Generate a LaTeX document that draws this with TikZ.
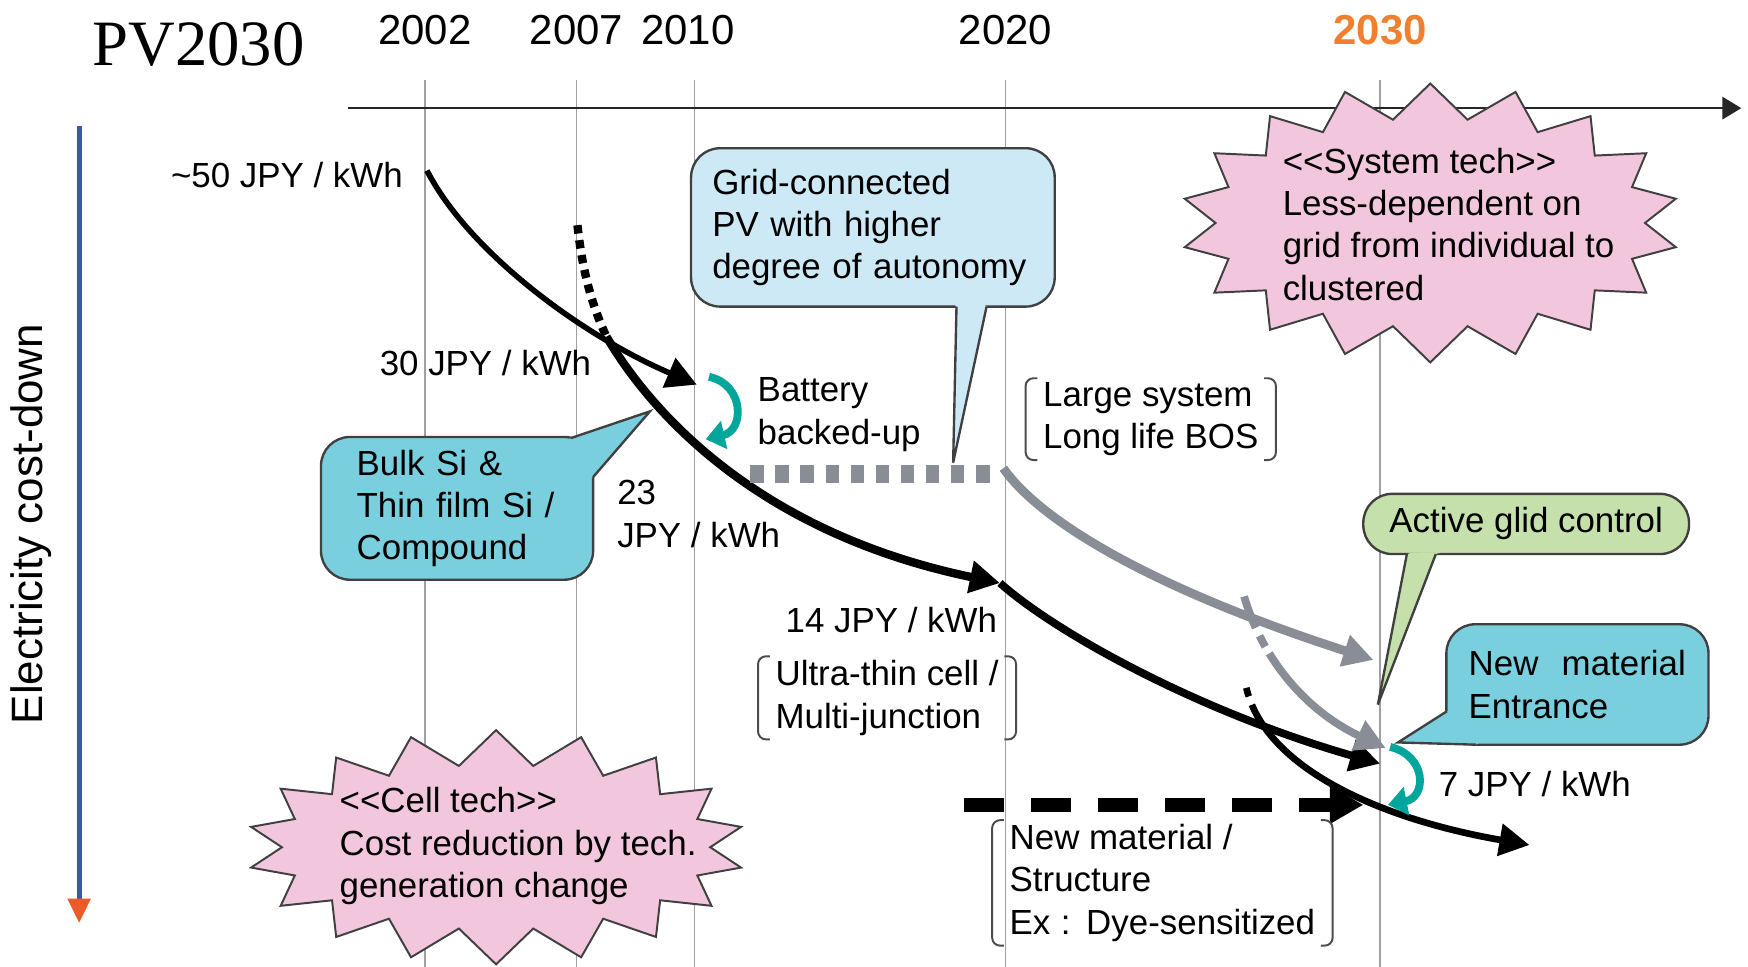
\documentclass[tikz,border=0pt]{standalone}
\usepackage{fontspec}
\setmainfont{Liberation Sans}
\newfontfamily\titlefont{Liberation Serif}
\usetikzlibrary{arrows.meta,shapes.symbols,calc}

\definecolor{gridgray}{RGB}{160,160,160}
\definecolor{curvegray}{RGB}{137,142,150}
\definecolor{cyclegreen}{RGB}{0,166,156}
\definecolor{axisblue}{RGB}{58,90,168}
\definecolor{axisred}{RGB}{236,90,40}
\definecolor{yearorange}{RGB}{240,128,48}
\definecolor{lightblue}{RGB}{205,233,245}
\definecolor{midblue}{RGB}{122,207,223}
\definecolor{palegreen}{RGB}{197,224,170}
\definecolor{burstpink}{RGB}{242,199,221}

\tikzset{
    yearlabel/.style={font=\fontsize{10.7}{12}\selectfont, inner sep=0pt},
    price/.style={font=\fontsize{8.9}{10.8}\selectfont, align=left, inner sep=0pt},
    gridline/.style={gridgray, line width=0.4pt},
    bubble/.style={draw=black!75, line width=0.6pt, rounded corners=0.26cm, inner sep=0pt,
        align=left, font=\fontsize{8.9}{10.8}\selectfont},
    burst/.style={shape=starburst, starburst points=18, random starburst=0,
        starburst point height=0.31cm, draw=black!75, line width=0.5pt, fill=burstpink, inner sep=0pt},
    bracketed/.style={font=\fontsize{8.9}{10.8}\selectfont, align=left, inner xsep=0.15cm, inner ysep=0.03cm},
    cost/.style={line width=0.05cm, -{Triangle[length=0.27cm,width=0.28cm]}},
    costgray/.style={cost, curvegray, line width=0.08cm},
    squaredots/.style={line width=0.075cm, dash pattern=on 0.075cm off 0.06cm},
    graysquares/.style={curvegray, line width=0.16cm, dash pattern=on 0.12cm off 0.105cm},
    blackdash/.style={line width=0.13cm, dash pattern=on 0.36cm off 0.24cm, -{Triangle[length=0.3cm,width=0.32cm]}},
    turnarrow/.style={cyclegreen, line width=0.07cm, -{Triangle[length=0.17cm,width=0.25cm]}},
}

\newcommand\bubbletail[5]{%
    \fill[#1] ($(#3)!1.5pt!(#2.center)$) -- (#3) -- (#4) -- (#5) -- ($(#5)!1.5pt!(#2.center)$) -- cycle;
    \draw[black!75, line width=0.6pt] (#3) -- (#4) -- (#5);}
\newcommand\brackets[1]{%
    \draw[black!70, line width=0.5pt, rounded corners=2pt] ([xshift=3pt]#1.north west) -- (#1.north west)
        -- (#1.south west) -- ([xshift=3pt]#1.south west);
    \draw[black!70, line width=0.5pt, rounded corners=2pt] ([xshift=-3pt]#1.north east) -- (#1.north east)
        -- (#1.south east) -- ([xshift=-3pt]#1.south east);}

\begin{document}
\begin{tikzpicture}[x=0.01cm,y=-0.01cm]
                \useasboundingbox (0,0) rectangle (1568,867);
                \foreach \g/\t/\yr in {381/381/2002, 517/517/2007, 623/617/2010, 902/902/2020} {
                    \draw[gridline] (\g,72) -- (\g,867);
                    \node[yearlabel] (y\yr) at (\t,27) {\yr};
                }
                \draw[gridline] (1238,72) -- (1238,867);
                \node[yearlabel, font=\fontsize{10.7}{12}\selectfont\bfseries, text=yearorange] (y2030) at (1238,27) {2030};
                \node[font=\titlefont\fontsize{16.5}{18}\selectfont, inner sep=0pt] (title) at (178,40) {PV2030};
                \coordinate (t0) at (312,97);
                \coordinate (t1) at (1562,97);
                \draw[black!85, line width=0.6pt, -{Triangle[length=0.17cm,width=0.2cm]}] (t0) -- (t1);
                \coordinate (c0) at (71,113);
                \coordinate (c1) at (71,828);
                \draw[axisblue, line width=0.045cm, -{Triangle[length=0.22cm,width=0.2cm,color=axisred]}] (c0) -- (c1);
                \node[rotate=90, font=\fontsize{11.2}{13}\selectfont, inner sep=0pt] (costdown) at (28,470) {Electricity cost-down};
                % cost curves
                \coordinate (p50) at (383,153);
                \coordinate (p30) at (544,302);
                \coordinate (pbat) at (625,345);
                \coordinate (p14) at (897,523);
                \coordinate (p7a) at (1238,685);
                \coordinate (p7b) at (1372,758);
                \coordinate (pdots) at (518,202);
                \coordinate (pfork) at (1118,617);
                \draw[cost] (p50) .. controls (420,225) and (520,300) .. (pbat);
                \draw[squaredots] (pdots) .. controls (522,240) and (530,272) .. (p30);
                \draw[cost, line width=0.075cm] (p30) .. controls (590,380) and (690,480) .. (p14);
                \draw[cost, line width=0.07cm] (p14) .. controls (950,570) and (1080,640) .. (p7a);
                \draw[cost, line width=0.06cm, dash pattern=on 0.08cm off 0.08cm on 30cm off 0cm] (pfork) .. controls (1135,690) and (1240,735) .. (p7b);
                \coordinate (g0) at (673,425);
                \coordinate (g1) at (890,425);
                \coordinate (g2) at (900,420);
                \coordinate (g3) at (1232,592);
                \coordinate (gfork) at (1116,535);
                \coordinate (g4) at (1243,671);
                \draw[graysquares] (g0) -- (g1);
                \draw[costgray] (g2) .. controls (935,470) and (1040,530) .. (g3);
                \draw[costgray, line width=0.07cm, dash pattern=on 0.3cm off 0.08cm on 0.11cm off 0.07cm on 30cm off 0cm] (gfork) .. controls (1135,600) and (1180,642) .. (g4);
                \coordinate (d0) at (865,722);
                \coordinate (d1) at (1223,722);
                \draw[blackdash] (d0) -- (d1);
                \coordinate (r0) at (636,338);
                \coordinate (r1) at (633,394);
                \draw[turnarrow] (r0) .. controls (668,345) and (668,386) .. (r1);
                \coordinate (r2) at (1247,670);
                \coordinate (r3) at (1245,722);
                \draw[turnarrow] (r2) .. controls (1280,678) and (1280,715) .. (r3);
                % callouts
                \node[bubble, fill=lightblue, minimum width=3.26cm, minimum height=1.42cm, text width=2.88cm] (grid) at (783,204) {Grid-connected\\PV with higher\\degree of autonomy};
                \bubbletail{lightblue}{grid}{858,275}{855,415}{885,275}
                \node[bubble, fill=midblue, minimum width=2.44cm, minimum height=1.28cm, text width=1.8cm] (bulk) at (410,456) {Bulk Si \&\\Thin film Si /\\Compound};
                \bubbletail{midblue}{bulk}{512,393}{583,369}{532,428}
                \node[bubble, fill=palegreen, minimum width=2.92cm, minimum height=0.54cm] (active) at (1369,470) {Active glid control};
                \bubbletail{palegreen}{active}{1262,497}{1236,632}{1288,497}
                \node[bubble, fill=midblue, minimum width=2.35cm, minimum height=1.08cm, text width=1.95cm] (newmat) at (1415,614) {New\ \ material\\Entrance};
                \bubbletail{midblue}{newmat}{1298,638}{1254,666}{1324,668}
                % bursts
                \node[burst, minimum width=4.47cm, minimum height=2.5cm] (systech) at (1283,200) {};
                \node[price, anchor=west] (systext) at (1150,201) {<{}<System tech>{}>\\Less-dependent on\\grid from individual to\\clustered};
                \node[burst, minimum width=4.46cm, minimum height=2.1cm] (celltech) at (445,760) {};
                \node[price, anchor=west] (celltext) at (304,759) {<{}<Cell tech>{}>\\Cost reduction by tech.\\generation change};
                % notes
                \node[bracketed, anchor=west] (largesys) at (920,376) {Large system\\Long life BOS};
                \brackets{largesys}
                \node[bracketed, anchor=west] (ultrathin) at (680,626) {Ultra-thin cell /\\Multi-junction};
                \brackets{ultrathin}
                \node[bracketed, anchor=west] (newstruct) at (890,792) {New material /\\Structure\\Ex\hspace{0.3em}:\hspace{0.45em}Dye-sensitized};
                \brackets{newstruct}
                \node[price, anchor=east] (l50) at (362,157) {\textasciitilde50 JPY / kWh};
                \node[price, anchor=west] (l30) at (340,326) {30 JPY / kWh};
                \node[price, anchor=west] (lbat) at (679,372) {Battery\\backed-up};
                \node[price, anchor=west] (l23) at (553,461) {23\\JPY / kWh};
                \node[price, anchor=east] (l14) at (895,556) {14 JPY / kWh};
                \node[price, anchor=west] (l7) at (1290,703) {7 JPY / kWh};
\end{tikzpicture}
\end{document}
